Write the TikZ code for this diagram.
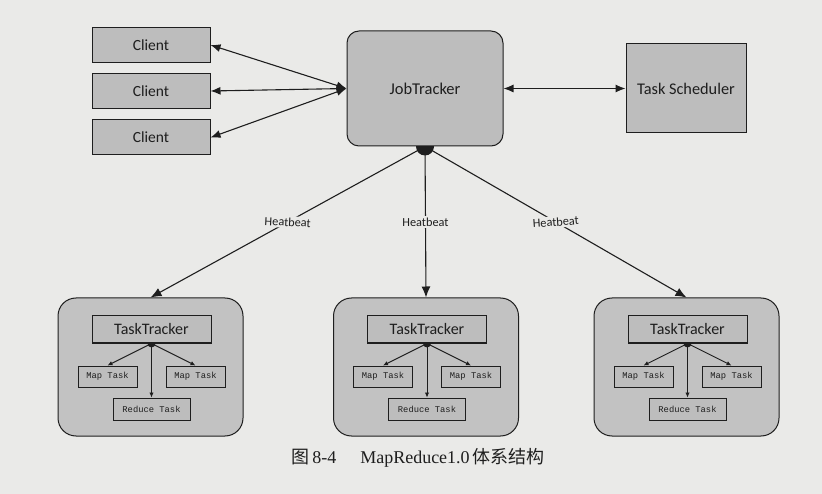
\documentclass[tikz,border=0pt]{standalone}
\usepackage{fontspec}
\setmainfont{Carlito}
\newfontfamily\monof{Liberation Mono}
\newfontfamily\capf{Liberation Serif}
\newfontfamily\cjk{Noto Sans CJK SC}
\usetikzlibrary{arrows.meta}
\definecolor{paper}{HTML}{EAEAE8}
\definecolor{boxgray}{HTML}{BDBDBD}
\definecolor{grpgray}{HTML}{C2C2C2}
\definecolor{ink}{HTML}{1E1E1E}
\tikzset{
  box/.style={draw=ink, line width=1pt, fill=boxgray, inner sep=0pt, text=ink},
  client/.style={box, minimum width=118pt, minimum height=35pt, font=\fontsize{15.5}{17}\selectfont},
  jtbox/.style={box, rounded corners=12pt, minimum width=156pt, minimum height=115pt, font=\fontsize{16.5}{18}\selectfont},
  tsbox/.style={box, minimum width=120pt, minimum height=89pt, font=\fontsize{16.3}{18}\selectfont},
  grp/.style={box, fill=grpgray, rounded corners=18pt, minimum width=185pt, minimum height=138pt},
  ttbox/.style={box, minimum width=119pt, minimum height=27pt, font=\fontsize{16}{18}\selectfont},
  taskbox/.style={box, minimum width=59pt, minimum height=21pt, font=\monof\fontsize{8.8}{10}\selectfont},
  redbox/.style={box, minimum width=77pt, minimum height=22pt, font=\monof\fontsize{8.8}{10}\selectfont},
  big/.style={line width=1.1pt, draw=ink, {Latex[length=10pt,width=8pt]}-{Latex[length=10pt,width=8pt]}},
  hbline/.style={line width=1.1pt, draw=ink, -{Latex[length=11pt,width=9pt]}},
  small/.style={line width=0.9pt, draw=ink, -{Latex[length=5pt,width=4.5pt]}},
  hb/.style={fill=paper, inner sep=1.5pt, text=ink, font=\fontsize{12.3}{14}\selectfont}
}
\begin{document}
\begin{tikzpicture}[x=1pt,y=-1pt]
\fill[paper] (0,0) rectangle (822,494);
\useasboundingbox (0,0) rectangle (822,494);
% top row
\node[client] (c1) at (151,45) {Client};
\node[client] (c2) at (151,91) {Client};
\node[client] (c3) at (151,137.5) {Client};
\node[jtbox] (jt) at (425,88.5) {JobTracker};
\node[tsbox] (ts) at (686,88.5) {Task Scheduler};
\foreach \i in {1,2,3} \draw[big] (jt.west) -- (c\i.east);
\draw[big] (jt.east) -- (ts.west);
% groups
\foreach \i/\cx/\rot in {1/150.5/-3,2/426/0,3/686.5/4} {
  \node[grp] (g\i) at (\cx,367) {};
  \node[ttbox] (tt\i) at (\cx+1,329.5) {TaskTracker};
  \node[taskbox] (ml\i) at (\cx-43,376.5) {Map Task};
  \node[taskbox] (mr\i) at (\cx+45,376.5) {Map Task};
  \node[redbox] (rd\i) at (\cx+1,409) {Reduce Task};
  \draw[small] (tt\i.south) -- (ml\i.north);
  \draw[small] (tt\i.south) -- (mr\i.north);
  \draw[small] (tt\i.south) -- (rd\i.north);
  \begin{scope}
    \clip ([xshift=-10pt]tt\i.south) rectangle ++(20,8);
    \fill[ink] (tt\i.south) circle[radius=4pt];
  \end{scope}
  \draw[hbline] (jt.south) -- node[hb, rotate=\rot] {Heatbeat} (g\i.north);
}
\begin{scope}
  \clip ([xshift=-12pt]jt.south) rectangle ++(24,14);
  \fill[ink] (jt.south) circle[radius=9pt];
\end{scope}
% caption
\node[text=ink, font=\fontsize{18}{20}\selectfont] (cap) at (418,458)
  {{\cjk 图}\,{\capf 8-4}\hspace{24pt}{\capf MapReduce1.0}\,{\cjk 体系结构}};
\end{tikzpicture}
\end{document}
